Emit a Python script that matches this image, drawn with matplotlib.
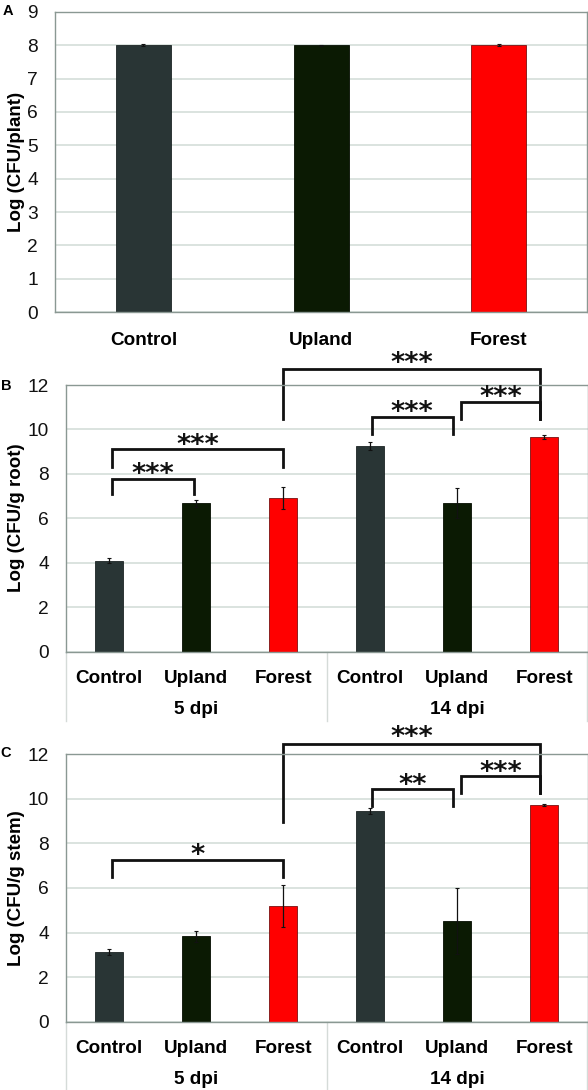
import matplotlib
matplotlib.use("Agg")
import matplotlib.pyplot as plt
import matplotlib.transforms as mtransforms

plt.rcParams['font.family'] = ['Liberation Sans', 'DejaVu Sans']

# ---------------- data ----------------
treatments = ["Control", "Upland", "Forest"]
groups = ["5 dpi", "14 dpi"]
bar_colors = ["#293535", "#0b1a03", "#ff0000"]
edge_colors = ["#1c2424", "#050d01", "#7a1010"]

plant_vals = [8.0, 7.99, 8.0]
plant_err = [0.02, 0.02, 0.03]

root_vals = [4.1, 6.68, 6.9, 9.26, 6.68, 9.66]
root_err = [0.13, 0.15, 0.5, 0.17, 0.67, 0.07]

stem_vals = [3.13, 3.83, 5.19, 9.44, 4.52, 9.73]
stem_err = [0.12, 0.25, 0.93, 0.13, 1.47, 0.06]

# brackets: (x1, x2, y_bar, y_leg1, y_leg2, label, y_label_center)
root_brackets = [
    (0.03, 0.98, 7.77, 7.09, 7.09, "***", 8.2),
    (0.03, 2.0, 9.1, 8.33, 8.33, "***", 9.5),
    (3.02, 3.95, 10.56, 9.78, 9.8, "***", 10.97),
    (4.05, 4.95, 11.25, 10.47, 10.47, "***", 11.64),
    (2.0, 4.95, 12.72, 10.47, 10.47, "***", 13.2),
]
stem_brackets = [
    (0.03, 2.0, 7.26, 6.48, 6.48, "*", 7.68),
    (3.02, 3.95, 10.46, 9.69, 9.69, "**", 10.81),
    (4.05, 4.95, 11.01, 10.25, 10.25, "***", 11.4),
    (2.0, 4.95, 12.46, 8.96, 10.25, "***", 12.96),
]

W, H = 588, 1090
fig = plt.figure(figsize=(W / 100, H / 100), dpi=100)

GRID = "#d8e0dc"
SPINE = "#8a9893"
LABEL_FS = 13.6
STAR_FS = 19.5


def fax(left_px, top_px, right_px, bottom_px):
    return fig.add_axes([left_px / W, 1 - bottom_px / H,
                         (right_px - left_px) / W, (bottom_px - top_px) / H])


def style(ax, ymax, step):
    ax.set_ylim(0, ymax)
    ax.set_yticks(range(0, ymax + 1, step))
    ax.grid(axis="y", color=GRID, linewidth=1.3)
    ax.set_axisbelow(True)
    for s in ax.spines.values():
        s.set_color(SPINE)
        s.set_linewidth(1.0)
    ax.tick_params(axis="y", length=0, pad=12, labelsize=13.8, colors="#111111")
    ax.tick_params(axis="x", length=0)


# ---------------- Panel A ----------------
axA = fax(54.7, 11.7, 587.5, 312.3)
xa = list(range(len(treatments)))
axA.bar(xa, plant_vals, width=0.31, color=bar_colors, edgecolor=edge_colors,
        linewidth=0.6, yerr=plant_err,
        error_kw=dict(ecolor="#111111", elinewidth=0.8, capsize=1.5, capthick=0.8))
axA.set_xlim(-0.5, 2.5)
style(axA, 9, 1)
axA.set_xticks(xa)
axA.set_xticklabels(treatments, fontsize=LABEL_FS, fontweight="bold")
axA.tick_params(axis="x", pad=14)
fig.text(17 / W, 1 - 162 / H, "Log (CFU/plant)", rotation=90, ha="center", va="center",
         fontsize=13.5, fontweight="bold")
fig.text(8 / W, 1 - 11 / H, "A", ha="center", va="center", fontsize=10.5, fontweight="bold")


def grouped(ax, vals, errs, brackets, ylabel, label_y_px, letter, letter_y_px):
    x = list(range(len(vals)))
    cols = bar_colors * len(groups)
    ecs = edge_colors * len(groups)
    ax.bar(x, vals, width=0.32, color=cols, edgecolor=ecs, linewidth=0.6,
           yerr=errs, error_kw=dict(ecolor="#111111", elinewidth=0.9, capsize=1.5, capthick=0.8))
    ax.set_xlim(-0.5, len(vals) - 0.5)
    style(ax, 12, 2)
    ax.set_xticks(x)
    ax.set_xticklabels(treatments * len(groups), fontsize=LABEL_FS, fontweight="bold")
    ax.tick_params(axis="x", pad=13)
    trans = mtransforms.blended_transform_factory(ax.transData, ax.transAxes)
    n = len(treatments)
    for gi, g in enumerate(groups):
        ax.text(gi * n + (n - 1) / 2, -0.215, g, transform=trans, ha="center", va="center",
                fontsize=LABEL_FS, fontweight="bold")
    for xv in [-0.5, n - 0.5, 2 * n - 0.5]:
        ax.plot([xv, xv], [0, -0.26], transform=trans, color="#d5dbd8", linewidth=1.0,
                clip_on=False)
    # offset (points) from the asterisk glyph centre down to baseline
    star_off = mtransforms.offset_copy(ax.transData, fig=fig, x=0, y=-0.45 * STAR_FS,
                                       units="points")
    for x1, x2, yb, yl1, yl2, lab, yt in brackets:
        ax.plot([x1, x1, x2, x2], [yl1, yb, yb, yl2], color="#111111", linewidth=2.0,
                clip_on=False, solid_joinstyle="miter")
        ax.text((x1 + x2) / 2, yt, lab, ha="center", va="baseline", fontsize=STAR_FS,
                fontweight="bold", family="DejaVu Sans", color="#111111", clip_on=False,
                transform=star_off)
    fig.text(17 / W, 1 - label_y_px / H, ylabel, rotation=90, ha="center", va="center",
             fontsize=13.5, fontweight="bold")
    fig.text(6 / W, 1 - letter_y_px / H, letter, ha="center", va="center", fontsize=10.5,
             fontweight="bold")


axB = fax(65.6, 385.0, 587.5, 651.7)
grouped(axB, root_vals, root_err, root_brackets, "Log (CFU/g root)", 518, "B", 386)

axC = fax(65.6, 754.3, 587.5, 1021.7)
grouped(axC, stem_vals, stem_err, stem_brackets, "Log (CFU/g stem)", 888, "C", 753)

fig.savefig("out.png", dpi=100)
